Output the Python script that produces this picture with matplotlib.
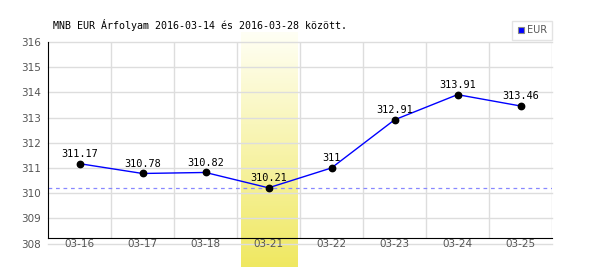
import numpy as np
import matplotlib.pyplot as plt
from matplotlib.lines import Line2D

dates = ['03-16', '03-17', '03-18', '03-21', '03-22', '03-23', '03-24', '03-25']
eur = [311.17, 310.78, 310.82, 310.21, 311, 312.91, 313.91, 313.46]
value_labels = ['311.17', '310.78', '310.82', '310.21', '311', '312.91', '313.91', '313.46']
yticks = [308, 309, 310, 311, 312, 313, 314, 315, 316]
highlight = '03-21'
title = 'MNB EUR Árfolyam 2016-03-14 és 2016-03-28 között.'

fig = plt.figure(figsize=(6, 2.7), dpi=100)
ax = fig.add_axes([48 / 600, 1 - 243.5 / 270, 504 / 600, 201.5 / 270])

x = np.arange(len(dates))
ymin, ymax = yticks[0], yticks[-1]
upp = (ymax - ymin) / 201.5  # value per pixel

# yellow highlighted column with vertical gradient
hx = dates.index(highlight)
grad = np.linspace(0, 1, 256).reshape(-1, 1)
top = np.array([1.0, 1.0, 0.96])
bot = np.array([0.94, 0.91, 0.38])
img = top + (bot - top) * grad[:, :, None] * np.ones((1, 1, 3))
ax.imshow(img, extent=(hx - 0.44, hx + 0.45, ymin - 23.5 * upp, ymax + 10 * upp),
          aspect='auto', origin='upper', clip_on=False, zorder=0, interpolation='bilinear')

# grid
for v in yticks:
    ax.axhline(v, color='#dddddd', lw=1, zorder=1, clip_on=False)
axis_y = ymin + 5.5 * upp
ax.vlines(np.arange(len(dates)) + 0.5, axis_y, ymax, color='#dddddd', lw=1, zorder=1)

# min line
ax.axhline(min(eur), color='#8888ff', lw=0.9, ls=(0, (3, 3)), zorder=2)

ax.plot(x, eur, '-', color='#0000ff', lw=1, zorder=3)
ax.plot(x, eur, 'o', color='black', ms=4.6, zorder=4)
for xi, v, s in zip(x, eur, value_labels):
    ax.annotate(s, (xi, v), xytext=(0, 3.5), textcoords='offset points', ha='center',
                va='bottom', fontsize=7.4, family='DejaVu Sans Mono', color='black', zorder=5)

ax.set_xlim(-0.5, len(dates) - 0.5)
ax.set_ylim(ymin, ymax)
ax.set_xticks(x)
ax.set_xticklabels(dates)
ax.set_yticks(yticks)
ax.tick_params(length=0, labelsize=7.5, labelcolor='#555555')
ax.tick_params(axis='x', pad=1)
ax.tick_params(axis='y', pad=5)
for s in ['top', 'right']:
    ax.spines[s].set_visible(False)
ax.spines['bottom'].set_position(('data', axis_y))
ax.spines['bottom'].set_zorder(6)
ax.spines['left'].set_bounds(axis_y, ymax)
ax.set_facecolor('none')

fig.text(53 / 600, 1 - 25 / 270, title, fontsize=7.2, family='DejaVu Sans Mono', va='center')

handle = Line2D([], [], ls='', marker='s', ms=5, mfc='#0000ff', mec='#888888', mew=0.8)
leg = fig.legend([handle], ['EUR'], loc='upper right', bbox_to_anchor=(552 / 600, 1 - 21 / 270),
                 fontsize=7, fancybox=False, edgecolor='#dddddd', handlelength=0.8,
                 handletextpad=0.3, borderpad=0.45, borderaxespad=0)
leg.get_frame().set_linewidth(1)
for t in leg.get_texts():
    t.set_color('#555555')

fig.savefig('out.png', dpi=100)
